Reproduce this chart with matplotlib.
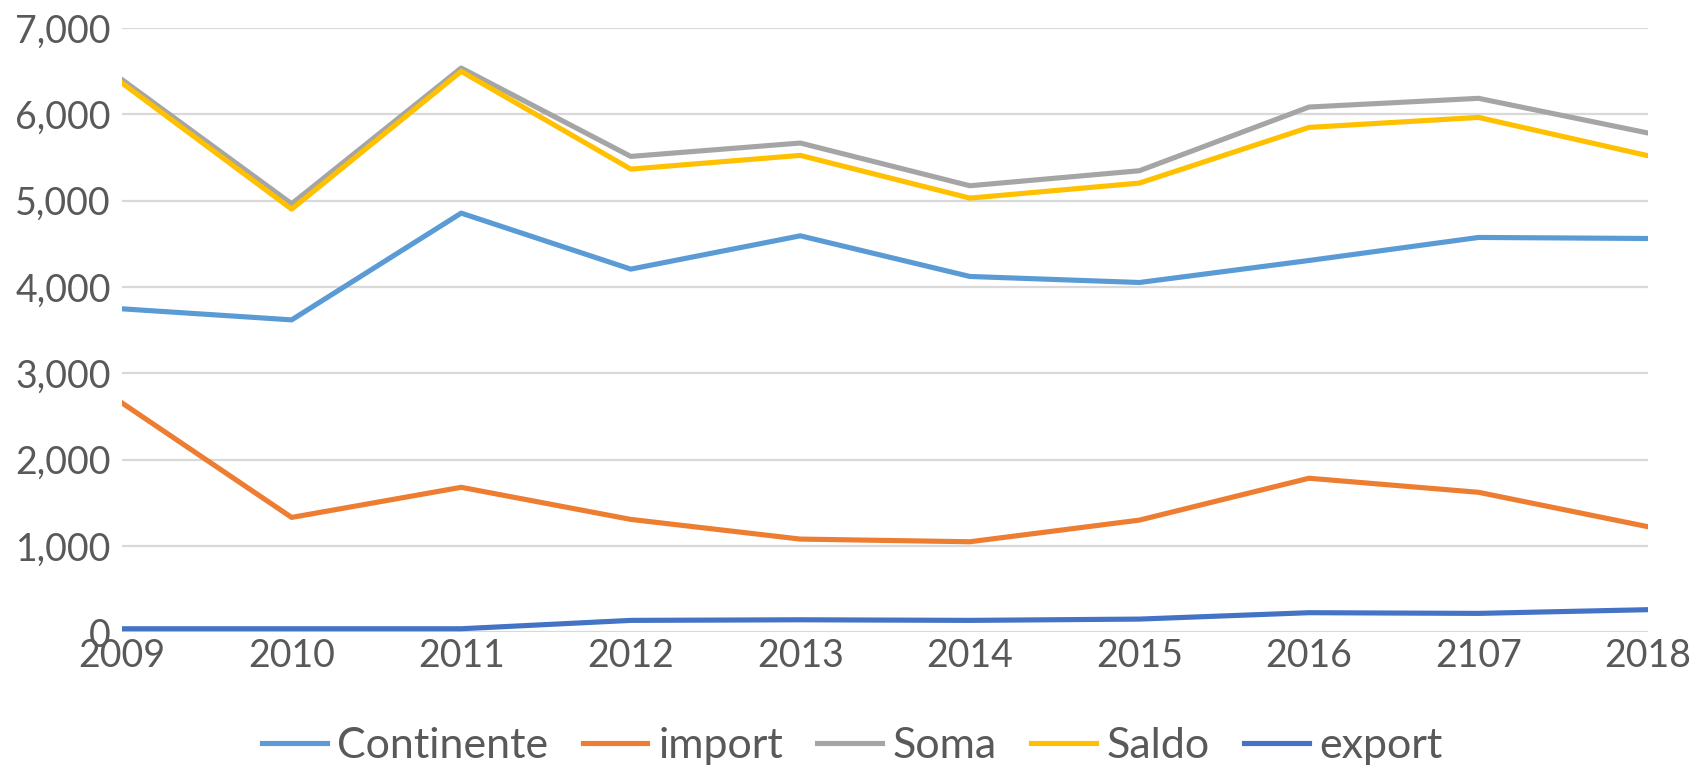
import matplotlib.pyplot as plt
from matplotlib.ticker import FuncFormatter

plt.rcParams['font.family'] = ['Lato', 'DejaVu Sans']

years = ["2009", "2010", "2011", "2012", "2013", "2014", "2015", "2016", "2107", "2018"]
continente = [3746, 3618, 4855, 4206, 4592, 4121, 4051, 4306, 4573, 4561]
imports = [2655, 1329, 1678, 1306, 1078, 1047, 1298, 1783, 1620, 1221]
soma = [6401, 4963, 6536, 5512, 5667, 5172, 5346, 6084, 6185, 5783]
saldo = [6362, 4901, 6498, 5365, 5524, 5029, 5203, 5848, 5964, 5520]
exports = [39, 39, 39, 136, 143, 136, 151, 225, 217, 260]

fig = plt.figure(figsize=(16.98, 7.69), dpi=100)
ax = fig.add_axes([0.0719, 0.178, 0.8987, 0.7856])

x = range(len(years))
lw = 3.7
ax.plot(x, continente, color="#5B9BD5", lw=lw, label="Continente")
ax.plot(x, imports, color="#ED7D31", lw=lw, label="import")
ax.plot(x, soma, color="#A5A5A5", lw=lw, label="Soma")
ax.plot(x, saldo, color="#FFC000", lw=lw, label="Saldo")
ax.plot(x, exports, color="#4472C4", lw=lw, label="export")

ax.set_xlim(0, len(years) - 1)
ax.set_ylim(0, 7000)
ax.set_yticks(range(0, 7001, 1000))
ax.yaxis.set_major_formatter(FuncFormatter(lambda v, p: f"{int(v):,}"))
ax.set_xticks(list(x))
ax.set_xticklabels(years)
ax.grid(axis="y", color="#D9D9D9", lw=1.6)
ax.set_axisbelow(True)
for s in ax.spines.values():
    s.set_visible(False)
ax.tick_params(axis="both", length=0, labelsize=27, labelcolor="#595959")
ax.tick_params(axis="y", pad=8)
ax.tick_params(axis="x", pad=4)

fig.legend(loc="center", bbox_to_anchor=(0.502, 0.03), ncol=5, frameon=False,
           fontsize=31, handlelength=1.5, handletextpad=0.25, columnspacing=0.8,
           labelcolor="#595959")

fig.savefig("out.png", dpi=100)
